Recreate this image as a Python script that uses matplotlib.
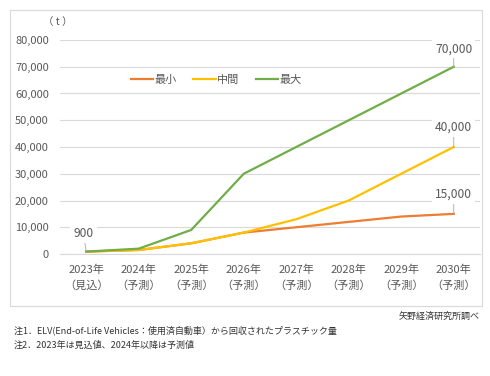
import numpy as np
import matplotlib.pyplot as plt
from matplotlib.patches import FancyBboxPatch

plt.rcParams['font.family'] = ['Noto Sans CJK JP', 'DejaVu Sans']

# data
years = ['2023年\n（見込）', '2024年\n（予測）', '2025年\n（予測）', '2026年\n（予測）',
         '2027年\n（予測）', '2028年\n（予測）', '2029年\n（予測）', '2030年\n（予測）']
v_min = [900, 1500, 4000, 8000, 10000, 12000, 14000, 15000]
v_mid = [900, 1500, 4000, 8000, 13000, 20000, 30000, 40000]
v_max = [900, 2000, 9000, 30000, 40000, 50000, 60000, 70000]
y_ticks = [0, 10000, 20000, 30000, 40000, 50000, 60000, 70000, 80000]

C_MIN = '#ED7D31'
C_MID = '#FFC000'
C_MAX = '#70AD47'
TXT = '#595959'

fig = plt.figure(figsize=(4.9, 3.76), dpi=100)

# chart frame (behind the axes)
frame = FancyBboxPatch((10/490, 1-306/376), 472/490, 296/376,
                       boxstyle='square,pad=0', transform=fig.transFigure,
                       facecolor='white', edgecolor='#D9D9D9', linewidth=0.8,
                       zorder=-5)
fig.patches.append(frame)

ax = fig.add_axes([60/490, 1-254/376, 420/490, 214/376])
ax.set_zorder(1)
x = np.arange(len(years))

ax.plot(x, v_min, color=C_MIN, lw=1.6, label='最小', zorder=3)
ax.plot(x, v_mid, color=C_MID, lw=1.6, label='中間', zorder=4)
ax.plot(x, v_max, color=C_MAX, lw=1.6, label='最大', zorder=5)

ax.set_xlim(-0.5, len(years) - 0.5)
ax.set_ylim(0, 80000)
ax.set_yticks(y_ticks)
ax.set_yticklabels(['{:,}'.format(v) for v in y_ticks])
ax.set_xticks(x)
ax.set_xticklabels(years, linespacing=1.55)
ax.tick_params(axis='both', length=0, colors=TXT, labelsize=8)
ax.tick_params(axis='y', pad=8)
ax.tick_params(axis='x', pad=8)
ax.grid(axis='y', color='#D9D9D9', lw=0.8)
ax.set_axisbelow(True)
for s in ['top', 'right', 'left']:
    ax.spines[s].set_visible(False)
ax.spines['bottom'].set_color('#D9D9D9')
ax.patch.set_alpha(0)

# data labels
def lab(xi, yi, dx, dy):
    ax.annotate('{:,}'.format(yi), xy=(xi, yi), xytext=(dx, dy),
                textcoords='offset points', ha='center', va='center',
                fontsize=8.7, color=TXT, zorder=6,
                bbox=dict(boxstyle='square,pad=0.25', fc='white', ec='none'),
                arrowprops=dict(arrowstyle='-', color='#A6A6A6', lw=0.6,
                                shrinkA=0, shrinkB=0))

lab(0, v_max[0], -2, 13)
lab(7, v_max[-1], 0, 13)
lab(7, v_mid[-1], 0, 14)
lab(7, v_min[-1], 0, 14)

leg = ax.legend(loc='center', bbox_to_anchor=(0.372, 0.814), ncol=3,
                frameon=False, fontsize=8, handlelength=2.0,
                handletextpad=0.1, columnspacing=1.5)
for t in leg.get_texts():
    t.set_color(TXT)

fig.text(58/490, 1-22/376, '（ t ）', fontsize=7.5, color=TXT, ha='center', va='center')

fig.text(480/490, 1-316/376, '矢野経済研究所調べ', fontsize=6.5, color='#333333',
         ha='right', va='center')
fig.text(14/490, 1-330/376, '注1．ELV(End-of-Life Vehicles：使用済自動車）から回収されたプラスチック量',
         fontsize=6.5, color='#333333', ha='left', va='center')
fig.text(14/490, 1-345/376, '注2．2023年は見込値、2024年以降は予測値',
         fontsize=6.5, color='#333333', ha='left', va='center')

fig.savefig('out.png', dpi=100)
